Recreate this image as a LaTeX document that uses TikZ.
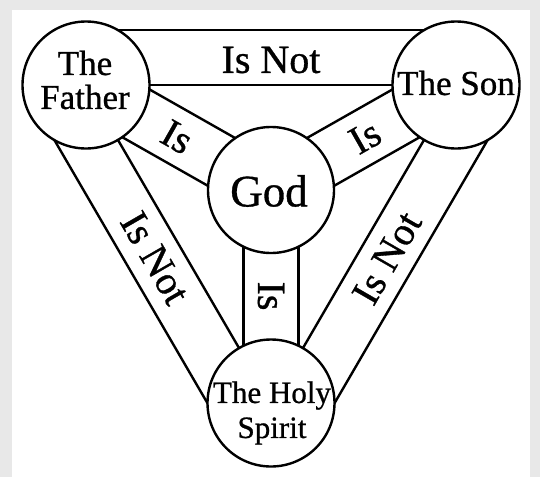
\documentclass[tikz,border=0pt]{standalone}
\usepackage{fontspec}
\setmainfont{Liberation Serif}[FakeBold=0.8]
\usetikzlibrary{calc}
\pgfdeclarelayer{back}
\pgfdeclarelayer{bg}
\pgfsetlayers{back,bg,main}
\begin{document}
\begin{tikzpicture}[x=1pt,y=-1pt,
  person/.style={circle, draw, line width=2.4pt, fill=white, minimum size=127pt, inner sep=0pt},
  txt/.style={inner sep=0pt, align=center},
  band/.style={line width=2.4pt},
  lbl/.style={font=\fontsize{40}{40}\selectfont, inner sep=0pt}]
\useasboundingbox (0,0) rectangle (540,477);
\begin{pgfonlayer}{back}
\fill[gray!18] (0,0) rectangle (540,477);
\fill[white] (12,10) rectangle (530,477);
\end{pgfonlayer}
% circles
\node[person] (F) at (86,85) {};
\node[person] (S) at (456,85) {};
\node[person, minimum size=126pt] (G) at (271,190) {};
\node[person] (H) at (271,403) {};
% circle texts
\node[txt, font=\fontsize{35}{34}\selectfont] (Ft) at (85,80) {The\\Father};
\node[txt, font=\fontsize{35}{35}\selectfont] (St) at (456,83) {The Son};
\node[txt, font=\fontsize{45}{45}\selectfont] (Gt) at (269,191) {God};
\node[txt, font=\fontsize{31}{35}\selectfont] (Ht) at (272,413) {The Holy\\Spirit};
% bands
\begin{pgfonlayer}{bg}
% Father - Son (Is Not)
\draw[band] (F.center) -- (S.center);
\draw[band] ($(F.center)!55pt!90:(S.center)$) -- ($(S.center)!55pt!-90:(F.center)$);
% Father - Holy Spirit (Is Not)
\draw[band] (F.center) -- (H.center);
\draw[band] ($(F.center)!55pt!-90:(H.center)$) -- ($(H.center)!55pt!90:(F.center)$);
% Son - Holy Spirit (Is Not)
\draw[band] (S.center) -- (H.center);
\draw[band] ($(S.center)!55pt!90:(H.center)$) -- ($(H.center)!55pt!-90:(S.center)$);
% spokes (Is)
\draw[band] ($(F.center)!27.5pt!90:(G.center)$) -- ($(G.center)!27.5pt!-90:(F.center)$);
\draw[band] ($(F.center)!27.5pt!-90:(G.center)$) -- ($(G.center)!27.5pt!90:(F.center)$);
\draw[band] ($(S.center)!27.5pt!90:(G.center)$) -- ($(G.center)!27.5pt!-90:(S.center)$);
\draw[band] ($(S.center)!27.5pt!-90:(G.center)$) -- ($(G.center)!27.5pt!90:(S.center)$);
\draw[band] ($(G.center)!27.5pt!90:(H.center)$) -- ($(H.center)!27.5pt!-90:(G.center)$);
\draw[band] ($(G.center)!27.5pt!-90:(H.center)$) -- ($(H.center)!27.5pt!90:(G.center)$);
\end{pgfonlayer}
% labels
\node[lbl] (lFS) at (271,60) {Is Not};
\node[lbl, rotate=-29.6] (lFG) at (177,137) {Is};
\node[lbl, rotate=29.6] (lSG) at (365,137) {Is};
\node[lbl, rotate=-90] (lGH) at (271,296) {Is};
\node[lbl, rotate=-60] (lFH) at (155,258) {Is Not};
\node[lbl, rotate=60] (lSH) at (387,258) {Is Not};
\end{tikzpicture}
\end{document}
